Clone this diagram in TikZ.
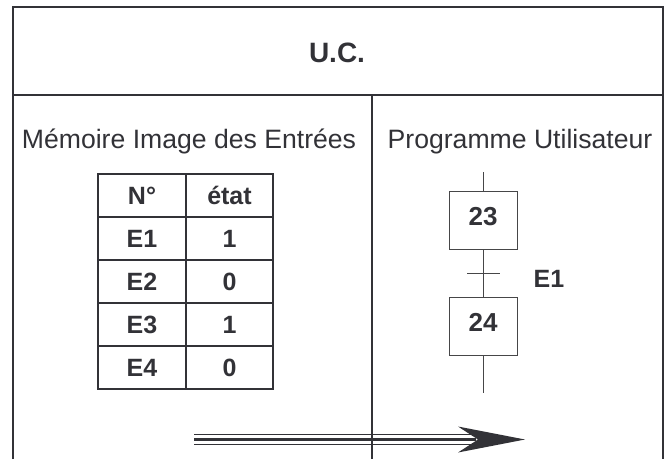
\documentclass[tikz,border=0pt]{standalone}
\usepackage{fontspec}
\setmainfont{Liberation Sans}
\definecolor{ink}{RGB}{50,50,55}
\definecolor{thin}{RGB}{70,70,72}
\tikzset{
  frame/.style={draw=ink, line width=2pt},
  grid/.style={draw=ink, line width=1.8pt},
  wire/.style={draw=thin, line width=1pt},
  caption/.style={text=ink, font=\fontsize{26.6}{30}\selectfont, inner sep=0pt, anchor=base},
  cell/.style={text=ink, font=\bfseries\fontsize{25}{29}\selectfont, inner sep=0pt, anchor=base},
  stepbox/.style={draw=thin, line width=1pt, minimum width=68pt, minimum height=58pt,
    text=ink, font=\bfseries\fontsize{26}{30}\selectfont, text height=18pt, text depth=8pt, inner sep=0pt},
}
\begin{document}
\begin{tikzpicture}[x=1pt, y=-1pt]
\useasboundingbox (0,0) rectangle (670,459);

% transfer arrow along the bottom
\coordinate (a0) at (194,439.5);
\coordinate (a1) at (476,439.5);
\coordinate (tip) at (525,439.5);
\draw[ink, line width=10.5pt] (a0) -- (a1);
\draw[white, line width=8.5pt] (a0) -- (a1);
\draw[ink, line width=3pt] (a0) -- (a1);
\fill[ink] (tip) -- (458,426.5) -- (478,439.5) -- (458,452.5) -- cycle;

% outer frame and partitions
\coordinate (tl) at (13,7);
\coordinate (tr) at (663,7);
\coordinate (bl) at (13,459);
\coordinate (br) at (663,459);
\coordinate (ml) at (13,95);
\coordinate (mr) at (663,95);
\coordinate (mt) at (372,95);
\coordinate (mb) at (372,459);
\draw[frame] (bl) -- (tl) -- (tr) -- (br);
\draw[frame] (ml) -- (mr);
\draw[frame] (mt) -- (mb);

\node[caption, font=\bfseries\fontsize{28}{32}\selectfont] (uc) at (337,62) {U.C.};
\node[caption] (mem) at (189,148) {Mémoire Image des Entrées};
\node[caption] (prog) at (520,148) {Programme Utilisateur};

% input image table
\draw[grid] (98,174) rectangle (273,389);
\foreach \y in {217,260,303,346} \draw[grid] (98,\y) -- (273,\y);
\draw[grid] (186,174) -- (186,389);
\node[cell] (h1) at (142,204) {N°};
\node[cell] (h2) at (229.5,204) {état};
\node[cell] (e1) at (142,247) {E1};
\node[cell] (v1) at (229.5,247) {1};
\node[cell] (e2) at (142,290) {E2};
\node[cell] (v2) at (229.5,290) {0};
\node[cell] (e3) at (142,333) {E3};
\node[cell] (v3) at (229.5,333) {1};
\node[cell] (e4) at (142,376) {E4};
\node[cell] (v4) at (229.5,376) {0};

% grafcet fragment
\node[stepbox] (s23) at (483,220) {23};
\node[stepbox] (s24) at (483,326.5) {24};
\coordinate (in) at (483,172);
\coordinate (out) at (483,393);
\coordinate (tb1) at (467,273);
\coordinate (tb2) at (500,273);
\draw[wire] (in) -- (s23.north);
\draw[wire] (s23.south) -- (s24.north);
\draw[wire] (s24.south) -- (out);
\draw[wire] (tb1) -- (tb2);
\node[cell] (cond) at (549,287.5) {E1};
\end{tikzpicture}
\end{document}
